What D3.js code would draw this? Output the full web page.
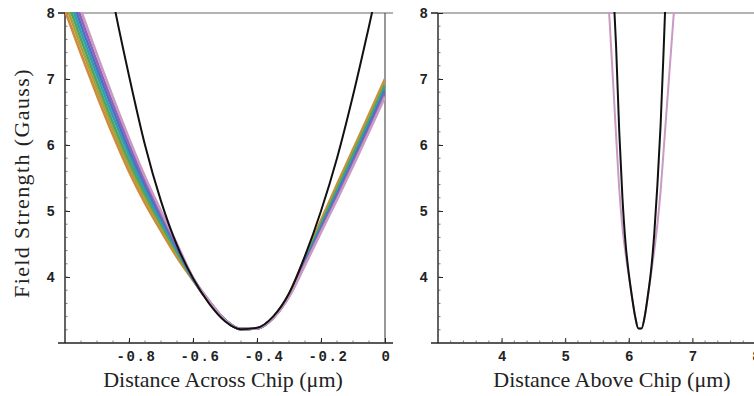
<!DOCTYPE html>
<html>
<head>
<meta charset="utf-8">
<script src="https://cdn.jsdelivr.net/npm/d3@7"></script>
<style>
  body { margin: 0; background: #fff; }
  svg { display: block; }
  .tick text { font-family: "Liberation Mono", "DejaVu Sans Mono", monospace; font-weight: bold; font-size: 14px; fill: #222; }
  .tick line { stroke: #222; stroke-width: 1; }
  .title { font-family: "Liberation Serif", "Times New Roman", serif; font-size: 22px; fill: #222; }
</style>
</head>
<body>
<svg id="chart" width="754" height="396"></svg>
<script>
// ---- data ----
// left panel: distance across chip (um), shared x grid
const acrossX = [-1.0, -0.95, -0.9, -0.85, -0.8, -0.75, -0.7, -0.65, -0.6, -0.55, -0.5,
  -0.45, -0.4, -0.35, -0.3, -0.25, -0.2, -0.15, -0.1, -0.05, 0.0];
const acrossBlack = [12.5, 11.0, 9.5, 8.2, 7.05, 6.0, 5.15, 4.48, 3.98, 3.6, 3.33,
  3.21, 3.23, 3.4, 3.75, 4.32, 5.0, 5.8, 6.75, 7.8, 8.9];
// colour family, outer (orange) to inner (pink)
const acrossOrange = [8.04, 7.38, 6.75, 6.15, 5.6, 5.12, 4.7, 4.3, 3.95, 3.62, 3.35,
  3.21, 3.22, 3.38, 3.74, 4.3, 4.86, 5.4, 5.93, 6.46, 7.0];
const acrossOlive = [8.16, 7.49, 6.85, 6.24, 5.68, 5.19, 4.75, 4.34, 3.96, 3.62, 3.35,
  3.21, 3.22, 3.38, 3.73, 4.28, 4.83, 5.36, 5.89, 6.42, 6.96];
const acrossGreen = [8.28, 7.6, 6.95, 6.33, 5.76, 5.26, 4.8, 4.38, 3.96, 3.63, 3.35,
  3.21, 3.22, 3.38, 3.73, 4.26, 4.8, 5.32, 5.85, 6.37, 6.91];
const acrossTeal = [8.4, 7.71, 7.06, 6.43, 5.85, 5.32, 4.85, 4.41, 3.97, 3.63, 3.35,
  3.21, 3.22, 3.38, 3.72, 4.24, 4.77, 5.28, 5.8, 6.33, 6.87];
const acrossBlue = [8.52, 7.82, 7.16, 6.53, 5.93, 5.39, 4.9, 4.44, 3.98, 3.63, 3.35,
  3.21, 3.22, 3.38, 3.71, 4.22, 4.74, 5.25, 5.76, 6.29, 6.82];
const acrossViolet = [8.64, 7.93, 7.26, 6.62, 6.02, 5.46, 4.95, 4.47, 3.98, 3.64, 3.35,
  3.21, 3.22, 3.38, 3.71, 4.2, 4.71, 5.21, 5.72, 6.24, 6.78];
const acrossPink = [8.75, 8.04, 7.37, 6.72, 6.1, 5.52, 5.0, 4.5, 3.99, 3.64, 3.35,
  3.21, 3.22, 3.38, 3.7, 4.18, 4.68, 5.17, 5.68, 6.2, 6.73];
const familyColors = ["#d4883a", "#a9a23c", "#52a35c", "#2fa0ae", "#4a72c4", "#8e62b8", "#c99ac4"];

// right panel: distance above chip (um)
const aboveX = [5.6, 5.65, 5.7, 5.75, 5.8, 5.85, 5.9, 5.95, 6.0, 6.05, 6.1, 6.15,
  6.2, 6.25, 6.3, 6.35, 6.4, 6.45, 6.5, 6.55, 6.6, 6.65, 6.7, 6.75];
const aboveBlack = [12.0, 10.9, 9.7, 8.5, 7.5, 6.2, 5.2, 4.5, 4.05, 3.7, 3.4, 3.22,
  3.22, 3.4, 3.72, 4.1, 4.65, 5.4, 6.3, 7.5, 8.8, 10.1, 11.4, 12.7];
const abovePink = [9.45, 8.65, 7.85, 7.0, 6.15, 5.33, 4.75, 4.35, 4.02, 3.7, 3.4, 3.22,
  3.22, 3.4, 3.71, 4.05, 4.4, 4.8, 5.3, 5.95, 6.6, 7.25, 7.9, 8.5];

const fieldTicks = [4, 5, 6, 7, 8];
const acrossTicks = [-0.8, -0.6, -0.4, -0.2, 0];
const aboveTicks = [4, 5, 6, 7, 8];

// ---- layout ----
const svg = d3.select("#chart");
const plotTop = 13, plotBottom = 343;
const y = d3.scaleLinear().domain([3, 8]).range([plotBottom, plotTop]);
const xLeft = d3.scaleLinear().domain([-1, 0]).range([65, 385]);
const xRight = d3.scaleLinear().domain([3, 8]).range([438, 756]);

const defs = svg.append("defs");
[["clipL", 65, 385], ["clipR", 438, 756]].forEach(([id, x0, x1]) => {
  defs.append("clipPath").attr("id", id)
    .append("rect").attr("x", x0).attr("y", plotTop - 1).attr("width", x1 - x0).attr("height", plotBottom - plotTop + 1);
});

const lineFor = xs => d3.line()
  .x(d => xs(d[0]))
  .y(d => y(d[1]))
  .curve(d3.curveMonotoneX);

const zipSeries = (xsArr, ysArr) => xsArr.map((v, i) => [v, ysArr[i]]);

// frames
const frame = (x0, xRightEdge, xEnd, hasRightLine) => {
  const g = svg.append("g");
  g.append("line").attr("x1", x0 - 7).attr("x2", xEnd).attr("y1", plotTop).attr("y2", plotTop)
    .attr("stroke", "#999").attr("stroke-width", 1.3);
  g.append("line").attr("x1", x0 - 7).attr("x2", xEnd).attr("y1", plotBottom).attr("y2", plotBottom)
    .attr("stroke", "#222").attr("stroke-width", 1.4);
  g.append("line").attr("x1", x0).attr("x2", x0).attr("y1", plotTop).attr("y2", plotBottom)
    .attr("stroke", "#222").attr("stroke-width", 1.4);
  if (hasRightLine) {
    g.append("line").attr("x1", xRightEdge).attr("x2", xRightEdge).attr("y1", plotTop).attr("y2", plotBottom)
      .attr("stroke", "#444").attr("stroke-width", 1.1);
  }
};
frame(65, 385, 393, true);
frame(438, 756, 754, false);

// axes
const styleAxis = g => { g.select(".domain").remove(); };

svg.append("g").attr("transform", `translate(0,${plotBottom})`)
  .call(d3.axisBottom(xLeft).tickValues(acrossTicks).tickSize(-5).tickPadding(8)
    .tickFormat(d => d === 0 ? "0" : d3.format(".1f")(d).replace("−", "-")))
  .call(styleAxis)
  .call(g => g.selectAll("text").attr("dx", d => d === 0 ? 1 : 7).style("letter-spacing", "1.6px"));

svg.append("g").attr("transform", `translate(0,${plotBottom})`)
  .call(d3.axisBottom(xRight).tickValues(aboveTicks).tickSize(-5).tickPadding(8).tickFormat(d3.format("d")))
  .call(styleAxis);

svg.append("g").attr("transform", "translate(65,0)")
  .call(d3.axisLeft(y).tickValues(fieldTicks).tickSize(-5).tickPadding(10).tickFormat(d3.format("d")))
  .call(styleAxis);

svg.append("g").attr("transform", "translate(438,0)")
  .call(d3.axisLeft(y).tickValues(fieldTicks).tickSize(-5).tickPadding(10).tickFormat(d3.format("d")))
  .call(styleAxis);

// outward stub ticks at top value
[65, 438].forEach(x0 => {
  svg.append("line").attr("x1", x0 - 7).attr("x2", x0).attr("y1", y(8)).attr("y2", y(8))
    .attr("stroke", "#222").attr("stroke-width", 1.3);
});

// minor ticks
const minor = svg.append("g").attr("stroke", "#555").attr("stroke-width", 0.8);
d3.range(-0.95, 0, 0.05).forEach(v => {
  minor.append("line").attr("x1", xLeft(v)).attr("x2", xLeft(v)).attr("y1", plotBottom).attr("y2", plotBottom - 2.5);
});
d3.range(3.2, 8, 0.2).forEach(v => {
  minor.append("line").attr("x1", xRight(v)).attr("x2", xRight(v)).attr("y1", plotBottom).attr("y2", plotBottom - 2.5);
  minor.append("line").attr("x1", 65).attr("x2", 67.5).attr("y1", y(v)).attr("y2", y(v));
  minor.append("line").attr("x1", 438).attr("x2", 440.5).attr("y1", y(v)).attr("y2", y(v));
});

// curves, left
const leftG = svg.append("g").attr("clip-path", "url(#clipL)");
const family = [acrossOrange, acrossOlive, acrossGreen, acrossTeal, acrossBlue, acrossViolet, acrossPink];
family.forEach((ys, i) => {
  leftG.append("path").datum(zipSeries(acrossX, ys))
    .attr("fill", "none").attr("stroke", familyColors[i]).attr("stroke-width", 2.6)
    .attr("d", lineFor(xLeft));
});
leftG.append("path").datum(zipSeries(acrossX, acrossBlack))
  .attr("fill", "none").attr("stroke", "#111").attr("stroke-width", 2)
  .attr("d", lineFor(xLeft));

// curves, right
const rightG = svg.append("g").attr("clip-path", "url(#clipR)");
rightG.append("path").datum(zipSeries(aboveX, abovePink))
  .attr("fill", "none").attr("stroke", familyColors[6]).attr("stroke-width", 2)
  .attr("d", lineFor(xRight));
rightG.append("path").datum(zipSeries(aboveX, aboveBlack))
  .attr("fill", "none").attr("stroke", "#111").attr("stroke-width", 2)
  .attr("d", lineFor(xRight));

// titles
svg.append("text").attr("class", "title")
  .attr("transform", "translate(29,183) rotate(-90)").attr("text-anchor", "middle")
  .style("letter-spacing", "1.4px")
  .text("Field Strength (Gauss)");
svg.append("text").attr("class", "title").attr("x", 223).attr("y", 387).attr("text-anchor", "middle")
  .text("Distance Across Chip (μm)");
svg.append("text").attr("class", "title").attr("x", 612).attr("y", 387).attr("text-anchor", "middle")
  .text("Distance Above Chip (μm)");
</script>
</body>
</html>
